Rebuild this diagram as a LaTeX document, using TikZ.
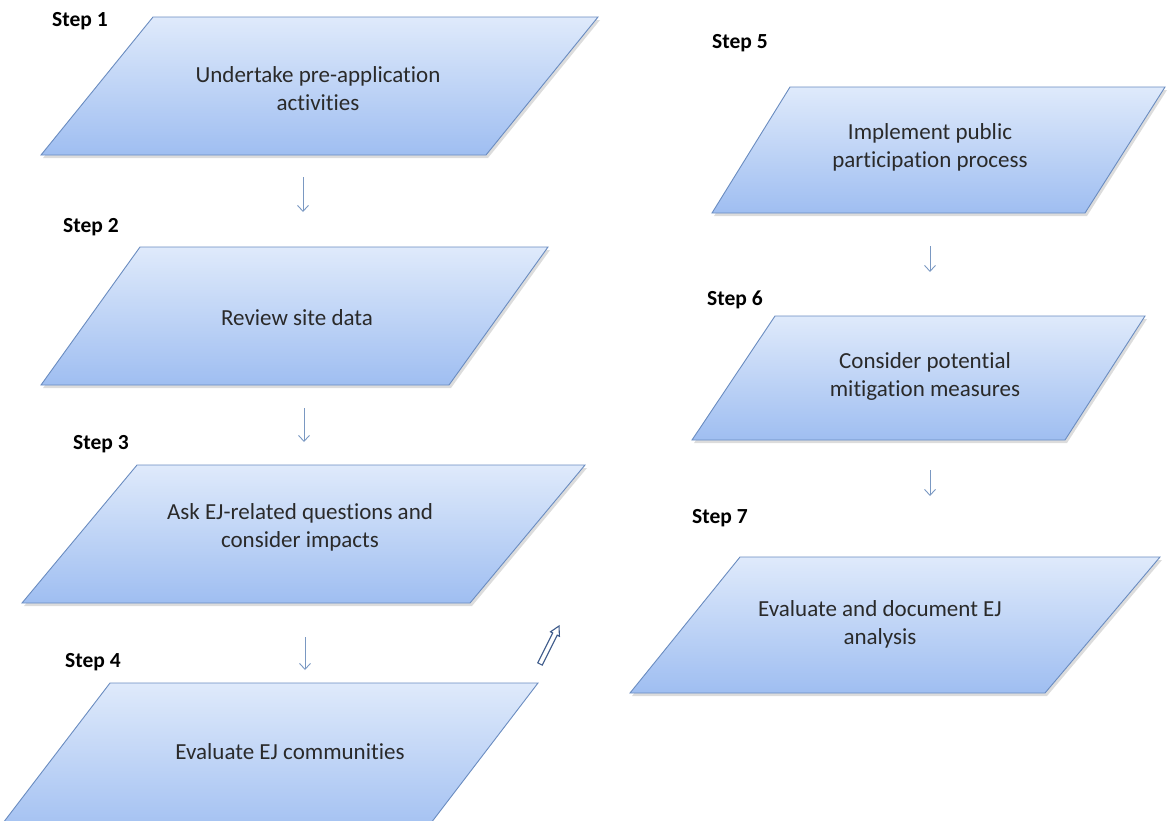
\documentclass[tikz,border=0pt]{standalone}
\usepackage{fontspec}
\setmainfont{Carlito}[Ligatures=NoCommon]
\usetikzlibrary{arrows.meta}
\definecolor{boxtop}{HTML}{DFEAFB}
\definecolor{boxbot}{HTML}{9FBEF1}
\definecolor{boxline}{HTML}{6A8CC0}
\definecolor{txtcol}{HTML}{2A2A2A}
\definecolor{arrcol}{HTML}{7A98C2}
\definecolor{hollow}{HTML}{3D5A8A}
\tikzset{
  pbox/.style={draw=boxline, line width=0.9pt, top color=boxtop, bottom color=boxbot},
  pshadow/.style={fill=black!30, draw=none, opacity=0.45},
  txt/.style={text=txtcol, align=center, font=\fontsize{23}{28}\selectfont},
  steplbl/.style={font=\bfseries\fontsize{21.5}{24}\selectfont, text=black, anchor=west, inner sep=0pt},
  arr/.style={draw=arrcol, line width=0.9pt, -{Straight Barb[length=6pt,width=11pt]}}
}
\begin{document}
\begin{tikzpicture}[x=1pt,y=-1pt]
\useasboundingbox (0,0) rectangle (1167,820);
\clip (0,0) rectangle (1167,820);
% shadows
\fill[pshadow] (155,20) -- (600,20) -- (488,158) -- (43,158) -- cycle;
\fill[pshadow] (142,250) -- (550,250) -- (451,388) -- (43,388) -- cycle;
\fill[pshadow] (139,468) -- (587,468) -- (472,606) -- (24,606) -- cycle;
\fill[pshadow] (792,90) -- (1167,90) -- (1087,216) -- (714,216) -- cycle;
\fill[pshadow] (777,319) -- (1147,319) -- (1067,443) -- (694,443) -- cycle;
\fill[pshadow] (742,560) -- (1162,560) -- (1047,696) -- (632,696) -- cycle;
% boxes
\path[pbox] (153,17) -- (598,17) -- (486,155) -- (41,155) -- cycle;
\path[pbox] (140,247) -- (548,247) -- (449,385) -- (41,385) -- cycle;
\path[pbox] (137,465) -- (585,465) -- (470,603) -- (22,603) -- cycle;
\path[pbox] (110,683) -- (538,683) -- (418,840) -- (-10,840) -- cycle;
\path[pbox] (790,87) -- (1165,87) -- (1085,213) -- (712,213) -- cycle;
\path[pbox] (775,316) -- (1145,316) -- (1065,440) -- (692,440) -- cycle;
\path[pbox] (740,557) -- (1160,557) -- (1045,693) -- (630,693) -- cycle;
% texts
\node[txt] (b1) at (318,89) {Undertake pre-application\\activities};
\node[txt] (b2) at (297,318) {Review site data};
\node[txt] (b3) at (300,527) {Ask EJ-related questions and\\consider impacts};
\node[txt] (b4) at (290,752) {Evaluate EJ communities};
\node[txt] (b5) at (930,147) {Implement public\\participation process};
\node[txt] (b6) at (925,376) {Consider potential\\mitigation measures};
\node[txt] (b7) at (880,624) {Evaluate and document EJ\\analysis};
% step labels
\node[steplbl] (s1) at (52,21) {Step 1};
\node[steplbl] (s2) at (63,227) {Step 2};
\node[steplbl] (s3) at (73,444) {Step 3};
\node[steplbl] (s4) at (65,662) {Step 4};
\node[steplbl] (s5) at (712,43) {Step 5};
\node[steplbl] (s6) at (707,300) {Step 6};
\node[steplbl] (s7) at (692,518) {Step 7};
% arrows
\coordinate (a1s) at (303,177); \coordinate (a1e) at (303,212);
\coordinate (a2s) at (304,408); \coordinate (a2e) at (304,442);
\coordinate (a3s) at (305,637); \coordinate (a3e) at (305,670);
\coordinate (a5s) at (930,246); \coordinate (a5e) at (930,272);
\coordinate (a6s) at (930,470); \coordinate (a6e) at (930,496);
\draw[arr] (a1s) -- (a1e);
\draw[arr] (a2s) -- (a2e);
\draw[arr] (a3s) -- (a3e);
\draw[arr] (a5s) -- (a5e);
\draw[arr] (a6s) -- (a6e);
% hollow block arrow
\filldraw[fill=white, draw=hollow, line width=1.1pt, line join=miter]
  (537.76,662.88) -- (552.73,632.93) -- (550.50,631.82) -- (559,626) -- (559.44,636.29) -- (557.21,635.17) -- (542.24,665.12) -- cycle;
\end{tikzpicture}
\end{document}
